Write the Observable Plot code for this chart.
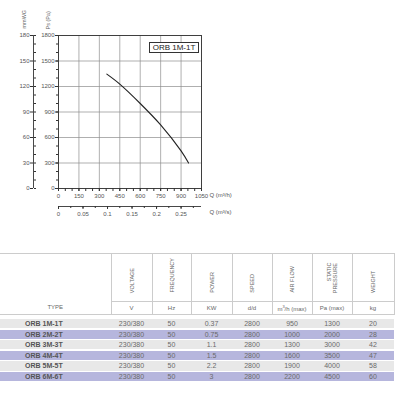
<!DOCTYPE html>
<html>
<head>
<meta charset="utf-8">
<script src="https://cdn.jsdelivr.net/npm/d3@7"></script>
<script src="https://cdn.jsdelivr.net/npm/@observablehq/plot@0.6"></script>
<style>
html, body { margin: 0; padding: 0; background: #fff; }
#root { position: relative; width: 400px; height: 400px; overflow: hidden; font-family: "Liberation Sans", Arial, sans-serif; }
#chart { position: absolute; left: 0; top: 0; }
#legend { position: absolute; left: 149px; top: 42px; width: 48px; height: 9px; border: 1px solid #333; font-size: 8px; line-height: 9px; text-align: center; color: #222; background: #fff; white-space: nowrap; }
#thead { position: absolute; left: 0; top: 253px; width: 394px; border-collapse: collapse; table-layout: fixed; border-top: 1px solid #ccc; border-bottom: 1px solid #ccc; }
#thead td { padding: 0; text-align: center; color: #666; }
#thead tr.h1 td { height: 43px; vertical-align: bottom; padding-bottom: 4px; }
#thead tr.h2 td { height: 12px; font-size: 6px; border-top: 1px solid #ccc; vertical-align: middle; }
#thead td.v { border-left: 1px solid #ccc; border-right: 1px solid #ccc; }
#thead td.type { font-size: 6px; vertical-align: bottom; padding-bottom: 3px; }
#thead .rot { display: inline-block; writing-mode: vertical-rl; transform: rotate(180deg); font-size: 5.5px; line-height: 6px; text-align: end; }
#tbody { position: absolute; left: 0; top: 319px; width: 394px; }
.row { display: flex; height: 9.3px; margin-bottom: 1.3px; line-height: 9.3px; font-size: 7px; color: #6a6a6a; }
.row.g { background: #e8e8e8; }
.row.p { background: #b6b6dd; }
.row span { display: block; text-align: center; }
.row span.t { text-align: left; padding-left: 25px; box-sizing: border-box; font-weight: bold; color: #555; }
</style>
</head>
<body>
<div id="root">
  <div id="chart"></div>
  <div id="legend"></div>
  <table id="thead"></table>
  <div id="tbody"></div>
</div>
<script>
// ---- chart data ----
const curveQ = [355, 450, 600, 750, 900, 955];      // m3/h
const curvePa = [1345, 1228, 1000, 748, 442, 300];  // Pa
const paTicks = [0, 300, 600, 900, 1200, 1500, 1800];
const paMinor = [0, 100, 200, 300, 400, 500, 600, 700, 800, 900, 1000, 1100, 1200, 1300, 1400, 1500, 1600, 1700, 1800];
const mmwgTicks = [0, 30, 60, 90, 120, 150, 180];
const qTicks = [0, 150, 300, 450, 600, 750, 900, 1050];
const qMinor = [0, 50, 100, 150, 200, 250, 300, 350, 400, 450, 500, 550, 600, 650, 700, 750, 800, 850, 900, 950, 1000, 1050];
const m3sTicks = [0, 0.05, 0.1, 0.15, 0.2, 0.25];
const m3sMinor = [0, 0.025, 0.05, 0.075, 0.1, 0.125, 0.15, 0.175, 0.2, 0.225, 0.25, 0.275];
const modelName = "ORB 1M-1T";

// ---- table data ----
const columns = ["VOLTAGE", "FREQUENCY", "POWER", "SPEED", "AIR FLOW", "STATIC\nPRESSURE", "WEIGHT"];
const units = ["V", "Hz", "KW", "d/d", "m³/h (max)", "Pa (max)", "kg"];
const types = ["ORB 1M-1T", "ORB 2M-2T", "ORB 3M-3T", "ORB 4M-4T", "ORB 5M-5T", "ORB 6M-6T"];
const voltage = ["230/380", "230/380", "230/380", "230/380", "230/380", "230/380"];
const frequency = [50, 50, 50, 50, 50, 50];
const power = ["0.37", "0.75", "1.1", "1.5", "2.2", "3"];
const speed = [2800, 2800, 2800, 2800, 2800, 2800];
const airflow = [950, 1000, 1300, 1600, 1900, 2200];
const pressure = [1300, 2000, 3000, 3500, 4000, 4500];
const weight = [20, 28, 42, 47, 58, 60];

const curve = curveQ.map((q, i) => ({q, pa: curvePa[i]}));
const W = 240, ML = 58, MR = 39;
const innerW = W - ML - MR;
const plain = d => String(d);

const chart = Plot.plot({
  width: W, height: 225,
  marginTop: 35, marginBottom: 37, marginLeft: ML, marginRight: MR,
  style: {fontFamily: "'Liberation Sans', Arial, sans-serif", fontSize: "6px", color: "#333", background: "transparent", overflow: "visible"},
  x: {domain: [0, 1050], label: null},
  y: {domain: [0, 1800], label: null},
  marks: [
    Plot.gridX(qTicks, {stroke: "#8c8c8c", strokeOpacity: 1, strokeWidth: 0.7}),
    Plot.gridY(paTicks, {stroke: "#8c8c8c", strokeOpacity: 1, strokeWidth: 0.7}),
    Plot.frame({stroke: "#333", strokeWidth: 0.9}),
    // Pa axis
    Plot.axisY(paTicks, {anchor: "left", tickSize: 3, tickPadding: 1, tickFormat: plain, label: null, fill: "#555"}),
    Plot.axisY(paMinor, {anchor: "left", tickSize: 2, tickFormat: () => "", label: null}),
    // mmWG axis
    Plot.ruleX([0], {dx: -25, stroke: "#333", strokeWidth: 0.9}),
    Plot.axisY(mmwgTicks.map(v => v * 10), {anchor: "left", dx: -25, tickSize: 3, tickPadding: 1, tickFormat: d => String(d / 10), label: null, fill: "#555"}),
    Plot.axisY(paMinor, {anchor: "right", dx: -(innerW + 25), tickSize: 2, tickFormat: () => "", label: null}),
    // m3/h axis
    Plot.axisX(qTicks, {anchor: "bottom", tickSize: 3, tickPadding: 2, tickFormat: plain, label: null, fill: "#555"}),
    Plot.axisX(qMinor, {anchor: "bottom", tickSize: 3, tickFormat: () => "", label: null}),
    // m3/s axis
    Plot.ruleY([0], {dy: 18, stroke: "#333", strokeWidth: 0.9}),
    Plot.axisX(m3sTicks.map(v => v * 3600), {anchor: "bottom", dy: 18, tickSize: 3, tickPadding: 2, label: null, fill: "#555",
      tickFormat: d => String(Math.round(d / 3600 * 100) / 100)}),
    Plot.axisX(m3sMinor.map(v => v * 3600), {anchor: "bottom", dy: 18, tickSize: 2, tickFormat: () => "", label: null}),
    // curve
    Plot.line(curve, {x: "q", y: "pa", stroke: "#222", strokeWidth: 1.1, curve: "catmull-rom"}),
    // axis titles
    Plot.text(["Q (m³/h)"], {frameAnchor: "bottom-right", dx: 8, dy: 8, textAnchor: "start", fill: "#555"}),
    Plot.text(["Q (m³/s)"], {frameAnchor: "bottom-right", dx: 8, dy: 25, textAnchor: "start", fill: "#555"}),
    Plot.text(["mmWG"], {frameAnchor: "top-left", dx: -36, dy: -7, rotate: -90, textAnchor: "start", fill: "#666", fontSize: 5.5}),
    Plot.text(["Ps (Pa)"], {frameAnchor: "top-left", dx: -12, dy: -6, rotate: -90, textAnchor: "start", fill: "#666", fontSize: 5.5})
  ]
});
document.getElementById("chart").appendChild(chart);
document.getElementById("legend").textContent = modelName;

// ---- table ----
const colW = [111, 41, 39, 41, 40, 40, 40, 42];
const thead = document.getElementById("thead");
const cg = document.createElement("colgroup");
colW.forEach(w => { const c = document.createElement("col"); c.style.width = w + "px"; cg.appendChild(c); });
thead.appendChild(cg);
const tr1 = document.createElement("tr"); tr1.className = "h1";
const tdType = document.createElement("td"); tdType.className = "type"; tdType.rowSpan = 2; tdType.textContent = "TYPE";
tr1.appendChild(tdType);
columns.forEach(c => {
  const td = document.createElement("td"); td.className = "v";
  const s = document.createElement("span"); s.className = "rot";
  c.split("\n").forEach((line, i) => { if (i) s.appendChild(document.createElement("br")); s.appendChild(document.createTextNode(line)); });
  td.appendChild(s); tr1.appendChild(td);
});
thead.appendChild(tr1);
const tr2 = document.createElement("tr"); tr2.className = "h2";
units.forEach(u => {
  const td = document.createElement("td"); td.className = "v";
  if (u.includes("³")) { td.innerHTML = "m<sup style='font-size:4px'>3</sup>/h (max)"; } else td.textContent = u;
  tr2.appendChild(td);
});
thead.appendChild(tr2);

const tbody = document.getElementById("tbody");
types.forEach((t, i) => {
  const row = document.createElement("div");
  row.className = "row " + (i % 2 ? "p" : "g");
  const vals = [t, voltage[i], frequency[i], power[i], speed[i], airflow[i], pressure[i], weight[i]];
  vals.forEach((v, j) => {
    const s = document.createElement("span");
    if (j === 0) s.className = "t";
    s.style.width = colW[j] + "px";
    s.textContent = v;
    row.appendChild(s);
  });
  tbody.appendChild(row);
});
</script>
</body>
</html>
